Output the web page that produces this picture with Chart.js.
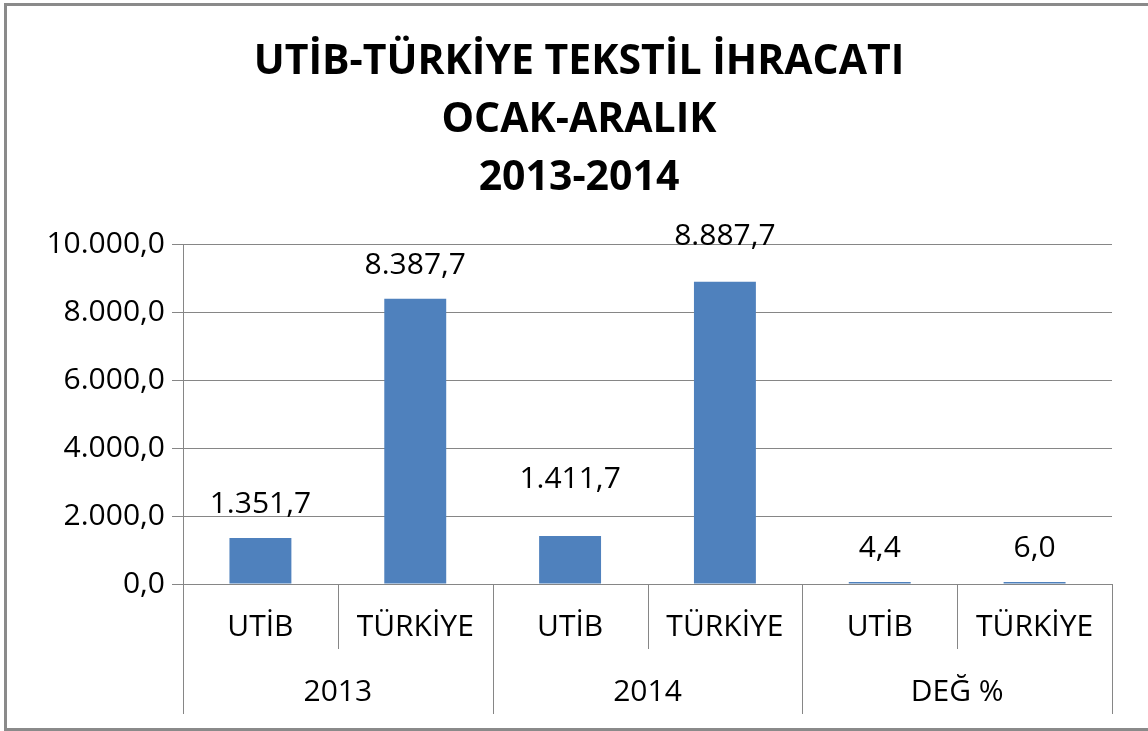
<!DOCTYPE html>
<html lang="tr">
<head>
<meta charset="utf-8">
<title>UTİB-TÜRKİYE Tekstil İhracatı</title>
<script src="https://cdn.jsdelivr.net/npm/chart.js@4.4.1/dist/chart.umd.min.js"></script>
<style>
  html, body { margin: 0; padding: 0; background: #fff; overflow: hidden; }
  #wrap { position: relative; width: 1148px; height: 731px; }
  #frame {
    position: absolute; left: 4px; top: 3px; width: 1160px; height: 728px;
    box-sizing: border-box; border: 3px solid #8a8a8a; pointer-events: none;
  }
</style>
</head>
<body>
<div id="wrap">
  <canvas id="c" width="1148" height="731"></canvas>
  <div id="frame"></div>
</div>
<script>
// chart data
const titleLines = ['UTİB-TÜRKİYE TEKSTİL İHRACATI', 'OCAK-ARALIK', '2013-2014'];
const groups = ['2013', '2014', 'DEĞ %'];
const subLabels = ['UTİB', 'TÜRKİYE', 'UTİB', 'TÜRKİYE', 'UTİB', 'TÜRKİYE'];
const values = [1351.7, 8387.7, 1411.7, 8887.7, 4.4, 6.0];
const yMin = 0;
const yMax = 10000;
const yStep = 2000;

const FONT = "'Open Sans', 'Noto Sans', sans-serif";
const GRID = '#868686';
const LABEL_SIZE = 30;

// 10000 -> "10.000,0"
function fmt(v) {
    const parts = v.toFixed(1).split('.');
    return parts[0].replace(/\B(?=(\d{3})+(?!\d))/g, '.') + ',' + parts[1];
}

// value labels above the bars (a couple were dragged up by hand in the original)
const valueLabels = {
    id: 'valueLabels',
    afterDatasetsDraw(chart, args, opts) {
        const ctx = chart.ctx;
        const meta = chart.getDatasetMeta(0);
        ctx.save();
        ctx.font = `${opts.size}px ${FONT}`;
        ctx.fillStyle = '#000';
        ctx.textAlign = 'center';
        ctx.textBaseline = 'alphabetic';
        meta.data.forEach((bar, i) => {
            const lift = opts.gap + (opts.extra[i] || 0);
            ctx.fillText(fmt(values[i]), bar.x, bar.y - lift);
        });
        ctx.restore();
    }
};

// second row of the category axis: group names and separators
const groupAxis = {
    id: 'groupAxis',
    afterDraw(chart, args, opts) {
        const ctx = chart.ctx;
        const x = chart.scales.x;
        const bottom = chart.chartArea.bottom;
        const n = subLabels.length;
        const perGroup = n / groups.length;
        const half = (x.getPixelForValue(1) - x.getPixelForValue(0)) / 2;

        ctx.save();
        ctx.strokeStyle = GRID;
        ctx.lineWidth = 1;
        for (let i = 0; i <= n; i++) {
            const px = i < n ? x.getPixelForValue(i) - half : x.getPixelForValue(n - 1) + half;
            const len = i % perGroup === 0 ? opts.groupLine : opts.pairLine;
            const xx = Math.round(px) + 0.5;
            ctx.beginPath();
            ctx.moveTo(xx, bottom);
            ctx.lineTo(xx, bottom + len);
            ctx.stroke();
        }

        ctx.font = `${opts.size}px ${FONT}`;
        ctx.fillStyle = '#000';
        ctx.textAlign = 'center';
        ctx.textBaseline = 'middle';
        groups.forEach((g, gi) => {
            const a = x.getPixelForValue(gi * perGroup);
            const b = x.getPixelForValue(gi * perGroup + perGroup - 1);
            ctx.fillText(g, (a + b) / 2, bottom + opts.labelOffset);
        });
        ctx.restore();
    }
};

new Chart(document.getElementById('c'), {
    type: 'bar',
    data: {
        labels: subLabels,
        datasets: [{
            data: values,
            backgroundColor: '#4F81BD',
            borderWidth: 0,
            minBarLength: 2,
            barPercentage: 0.4,
            categoryPercentage: 1
        }]
    },
    options: {
        responsive: false,
        animation: false,
        // left/right padding also centres the title where the original had it
        layout: { padding: { left: 46, right: 36, top: 0, bottom: 0 } },
        plugins: {
            legend: { display: false },
            tooltip: { enabled: false },
            title: {
                display: true,
                text: titleLines,
                color: '#000',
                font: { family: FONT, size: 41, weight: 'bold', lineHeight: 1.415 },
                padding: { top: 33, bottom: 37 }
            },
            valueLabels: { size: LABEL_SIZE, gap: 25, extra: [0, 0, 23, 12, 0, 0] },
            groupAxis: { size: LABEL_SIZE, pairLine: 65, groupLine: 130, labelOffset: 108 }
        },
        scales: {
            x: {
                offset: true,
                grid: { display: false, drawTicks: false },
                border: { display: true, color: GRID, width: 1 },
                ticks: { color: '#000', font: { family: FONT, size: LABEL_SIZE }, padding: 25, maxRotation: 0 },
                afterFit: s => { s.height = 147; }
            },
            y: {
                min: yMin,
                max: yMax,
                grid: { color: GRID, lineWidth: 1, tickLength: 11, drawTicks: true },
                border: { display: true, color: GRID, width: 1 },
                ticks: {
                    stepSize: yStep,
                    color: '#000',
                    font: { family: FONT, size: LABEL_SIZE },
                    padding: 7,
                    callback: v => fmt(v)
                },
                afterFit: s => { s.width = 137; }
            }
        }
    },
    plugins: [valueLabels, groupAxis]
});
</script>
</body>
</html>
